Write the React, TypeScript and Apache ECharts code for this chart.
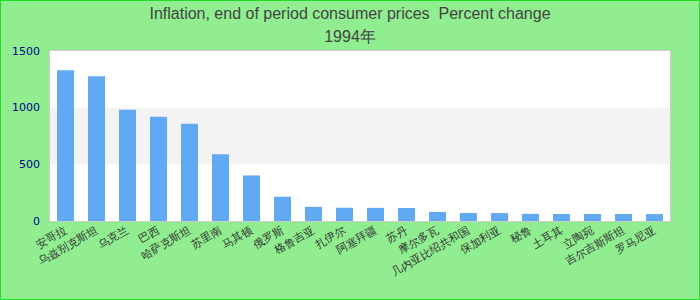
import React, { useEffect, useRef } from "react";
import * as echarts from "echarts";

const titleLine1 = "Inflation, end of period consumer prices  Percent change";
const titleLine2 = "1994年";

const countries = [
  "安哥拉",
  "乌兹别克斯坦",
  "乌克兰",
  "巴西",
  "哈萨克斯坦",
  "苏里南",
  "马其顿",
  "俄罗斯",
  "格鲁吉亚",
  "扎伊尔",
  "阿塞拜疆",
  "苏丹",
  "摩尔多瓦",
  "几内亚比绍共和国",
  "保加利亚",
  "秘鲁",
  "土耳其",
  "立陶宛",
  "吉尔吉斯斯坦",
  "罗马尼亚",
];

const inflation = [1331, 1278, 982, 920, 857, 589, 402, 214, 125, 117, 116, 115, 80, 71, 70, 63, 62, 62, 62, 61];

const yTicks = [0, 500, 1000, 1500];

export default function App() {
  const ref = useRef<HTMLDivElement>(null);

  useEffect(() => {
    if (!ref.current) return;
    const chart = echarts.init(ref.current, null, { renderer: "svg" });
    chart.setOption({
      animation: false,
      backgroundColor: "#90ee90",
      title: {
        text: titleLine1 + "\n" + titleLine2,
        left: "center",
        top: 1,
        padding: 0,
        textStyle: {
          fontFamily: "Liberation Sans, Arial, sans-serif",
          fontSize: 16,
          fontWeight: "normal",
          color: "#444",
          lineHeight: 23,
        },
      },
      grid: {
        show: true,
        left: 49,
        right: 29,
        top: 50,
        bottom: 78,
        backgroundColor: "#ffffff",
        borderColor: "#cccccc",
        borderWidth: 2,
      },
      xAxis: {
        type: "category",
        data: countries,
        axisTick: { show: false },
        axisLine: { show: false },
        axisLabel: {
          interval: 0,
          rotate: 30,
          fontSize: 11,
          color: "#333",
          margin: 8,
        },
      },
      yAxis: {
        type: "value",
        min: yTicks[0],
        max: yTicks[yTicks.length - 1],
        interval: 500,
        axisLine: { show: false },
        axisTick: { show: false },
        splitLine: { show: false },
        splitArea: {
          show: true,
          areaStyle: { color: ["#ffffff", "#f3f3f3"] },
        },
        axisLabel: {
          color: "#00008b",
          fontSize: 11,
          fontFamily: "DejaVu Sans, sans-serif",
          margin: 10,
          formatter: (v: number) => String(v),
        },
      },
      series: [
        {
          type: "bar",
          data: inflation,
          barWidth: 17,
          itemStyle: { color: "#62a9f4" },
        },
      ],
    });
    return () => chart.dispose();
  }, []);

  return (
    <div
      style={{
        position: "fixed",
        left: 0,
        top: 0,
        width: 700,
        height: 300,
        boxSizing: "border-box",
        border: "1px solid #22dd22",
        background: "#90ee90",
      }}
    >
      <div ref={ref} style={{ width: 698, height: 298 }} />
    </div>
  );
}
